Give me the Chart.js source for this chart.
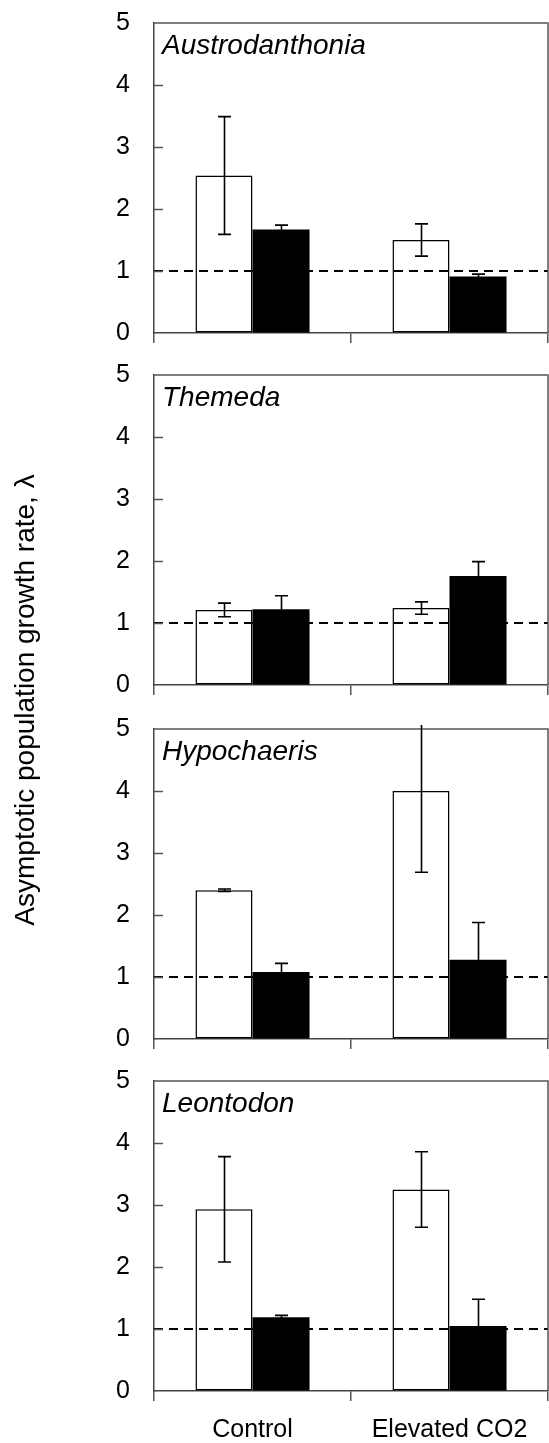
<!DOCTYPE html>
<html>
<head>
<meta charset="utf-8">
<script src="https://cdn.jsdelivr.net/npm/chart.js@4.4.1/dist/chart.umd.min.js"></script>
<style>
  body { margin: 0; background: #fff; width: 549px; height: 1443px; position: relative; overflow: hidden; }
  canvas { position: absolute; left: 0; }
  #ytitle {
    position: absolute; left: -277px; top: 686px; width: 600px; height: 28px;
    line-height: 28px; text-align: center; white-space: nowrap;
    font: 28px "Liberation Sans", Arial, sans-serif; color: #000;
    transform: rotate(-90deg); transform-origin: center;
  }
</style>
</head>
<body>
<canvas id="p0"></canvas>
<canvas id="p1"></canvas>
<canvas id="p2"></canvas>
<canvas id="p3"></canvas>
<div id="ytitle">Asymptotic population growth rate, λ</div>
<script>
const categories = ['Control', 'Elevated CO2'];
const species = ['Austrodanthonia', 'Themeda', 'Hypochaeris', 'Leontodon'];
const yTicks = [0, 1, 2, 3, 4, 5];

// open (white) and filled (black) bars: means and error bars, by treatment
const austroOpen = [2.54, 1.50];
const austroOpenErr = [0.95, 0.26];
const austroFilled = [1.67, 0.91];
const austroFilledErr = [0.07, 0.04];

const themedaOpen = [1.21, 1.24];
const themedaOpenErr = [0.11, 0.10];
const themedaFilled = [1.22, 1.76];
const themedaFilledErr = [0.22, 0.23];

const hypoOpen = [2.40, 4.00];
const hypoOpenErr = [0.02, 1.31];
const hypoFilled = [1.08, 1.28];
const hypoFilledErr = [0.14, 0.60];

const leontoOpen = [2.93, 3.25];
const leontoOpenErr = [0.85, 0.61];
const leontoFilled = [1.19, 1.05];
const leontoFilledErr = [0.03, 0.43];

const panels = [
  { open: austroOpen, openErr: austroOpenErr, filled: austroFilled, filledErr: austroFilledErr },
  { open: themedaOpen, openErr: themedaOpenErr, filled: themedaFilled, filledErr: themedaFilledErr },
  { open: hypoOpen, openErr: hypoOpenErr, filled: hypoFilled, filledErr: hypoFilledErr },
  { open: leontoOpen, openErr: leontoOpenErr, filled: leontoFilled, filledErr: leontoFilledErr }
];

const FONT = '"Liberation Sans", Arial, sans-serif';
const panelTops = [23, 375, 729, 1081];
const PAD_TOP = 22;
const AREA_H = 310;

// dashed line, box, inward y ticks, error bars and species name
const panelDecor = {
  id: 'panelDecor',
  afterDatasetsDraw(chart, args, opts) {
    const { ctx, chartArea: a, scales: { y } } = chart;
    ctx.save();

    ctx.strokeStyle = '#000';
    ctx.lineWidth = 2;
    ctx.setLineDash([9, 6]);
    const y1 = Math.round(y.getPixelForValue(1));
    ctx.beginPath();
    ctx.moveTo(a.left, y1);
    ctx.lineTo(a.right, y1);
    ctx.stroke();
    ctx.setLineDash([]);

    // top and right frame
    ctx.strokeStyle = '#555';
    ctx.lineWidth = 1.5;
    ctx.beginPath();
    ctx.moveTo(a.left, a.top);
    ctx.lineTo(a.right, a.top);
    ctx.lineTo(a.right, a.bottom);
    ctx.stroke();

    // y tick marks pointing inwards
    yTicks.slice(1, -1).forEach(v => {
      const py = Math.round(y.getPixelForValue(v)) + 0.5;
      ctx.beginPath();
      ctx.moveTo(a.left, py);
      ctx.lineTo(a.left + 9, py);
      ctx.stroke();
    });

    // error bars
    ctx.strokeStyle = '#000';
    ctx.lineWidth = 1.6;
    chart.data.datasets.forEach((ds, i) => {
      chart.getDatasetMeta(i).data.forEach((bar, j) => {
        const v = ds.data[j], e = ds.errors[j];
        let top = y.getPixelForValue(v + e);
        const bot = y.getPixelForValue(v - e);
        let capTop = true;
        if (top < a.top - 4) { top = a.top - 4; capTop = false; }
        const x = Math.round(bar.x) + 0.5;
        ctx.beginPath();
        ctx.moveTo(x, top);
        ctx.lineTo(x, bot);
        if (capTop) { ctx.moveTo(x - 6.5, top); ctx.lineTo(x + 6.5, top); }
        ctx.moveTo(x - 6.5, bot);
        ctx.lineTo(x + 6.5, bot);
        ctx.stroke();
      });
    });

    ctx.fillStyle = '#000';
    ctx.font = 'italic 28px ' + FONT;
    ctx.textBaseline = 'alphabetic';
    ctx.fillText(opts.label, a.left + 8, a.top + 31);
    ctx.restore();
  }
};

panels.forEach((p, i) => {
  const last = i === panels.length - 1;
  const xh = last ? 52 : 18;
  const canvas = document.getElementById('p' + i);
  canvas.width = 549;
  canvas.height = PAD_TOP + AREA_H + xh;
  canvas.style.top = (panelTops[i] - PAD_TOP) + 'px';

  new Chart(canvas.getContext('2d'), {
    type: 'bar',
    data: {
      labels: categories,
      datasets: [
        {
          label: 'open',
          data: p.open,
          errors: p.openErr,
          backgroundColor: '#fff',
          borderColor: '#000',
          borderWidth: 1.5,
          borderSkipped: false
        },
        {
          label: 'filled',
          data: p.filled,
          errors: p.filledErr,
          backgroundColor: '#000',
          borderColor: '#000',
          borderWidth: 0
        }
      ]
    },
    options: {
      responsive: false,
      animation: false,
      events: [],
      layout: { padding: { top: PAD_TOP, right: 1, left: 0, bottom: 0 } },
      datasets: { bar: { categoryPercentage: 0.579, barPercentage: 1.0 } },
      plugins: {
        legend: { display: false },
        tooltip: { enabled: false },
        panelDecor: { label: species[i] }
      },
      scales: {
        x: {
          offset: true,
          afterFit: s => { s.height = xh; },
          grid: {
            offset: true,
            drawOnChartArea: false,
            drawTicks: true,
            tickLength: 10,
            color: '#555',
            lineWidth: 1.5
          },
          border: { display: true, color: '#444', width: 1.5 },
          ticks: {
            display: last,
            color: '#000',
            padding: 14,
            font: { family: FONT, size: 25 }
          }
        },
        y: {
          min: 0,
          max: 5,
          afterFit: s => { s.width = 154; },
          afterBuildTicks: s => { s.ticks = yTicks.map(v => ({ value: v })); },
          grid: {
            display: true,
            drawOnChartArea: false,
            drawTicks: true,
            tickLength: 24,
            color: 'rgba(0,0,0,0)'
          },
          border: { display: true, color: '#444', width: 1.5 },
          ticks: {
            color: '#000',
            padding: 0,
            font: { family: FONT, size: 25, lineHeight: 1 }
          }
        }
      }
    },
    plugins: [panelDecor]
  });
});
</script>
</body>
</html>
